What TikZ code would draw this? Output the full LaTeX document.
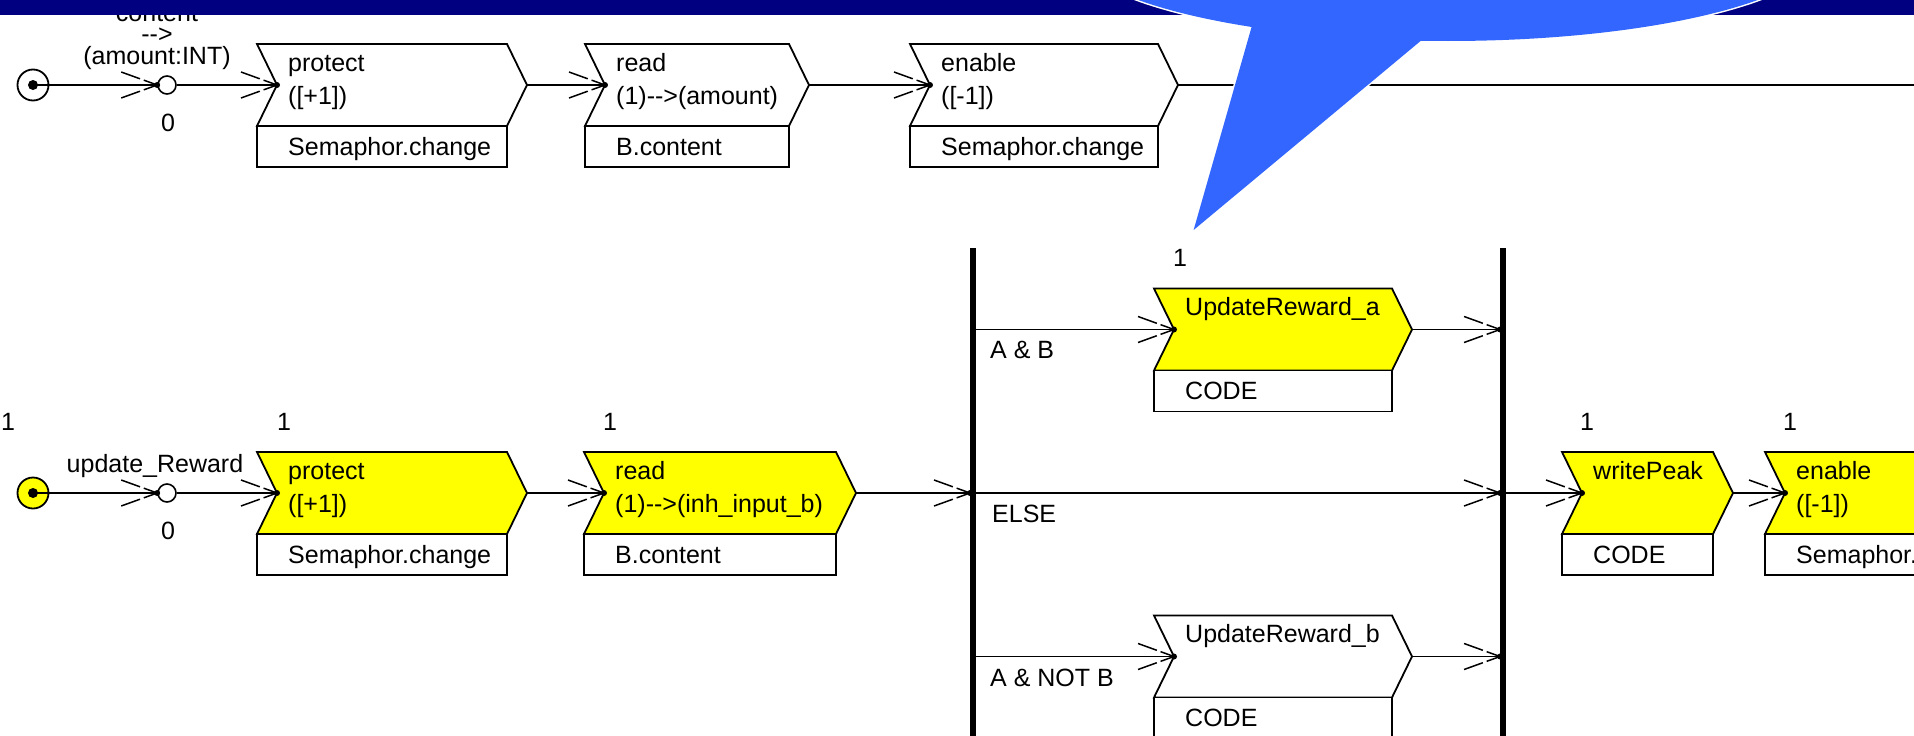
\documentclass[tikz,border=0pt]{standalone}
\usepackage{fontspec}
\setmainfont{Liberation Sans}
\usetikzlibrary{calc}

\definecolor{navyband}{RGB}{0,0,128}
\definecolor{callout}{RGB}{51,102,255}
\definecolor{actfill}{RGB}{255,255,0}

\newcommand\diafont{\fontsize{25}{25}\selectfont}

\tikzset{
  outline/.style={draw=black, line width=1.8pt, line join=miter},
  conn/.style={draw=black, line width=1.8pt},
  barb/.style={draw=black, line width=1.5pt, dash pattern=on 20pt off 4pt on 20pt},
  lbl/.style={anchor=base west, inner sep=0pt, font=\diafont},
  clbl/.style={anchor=base, inner sep=0pt, font=\diafont},
  startc/.style={circle, draw=black, line width=1.8pt, minimum size=31pt, inner sep=0pt},
  junc/.style={circle, draw=black, line width=1.6pt, fill=white, minimum size=18pt, inner sep=0pt},
  syncbar/.style={fill=black, inner sep=0pt, minimum width=5.5pt, minimum height=512pt},
}

% activity box: chevron body with a call box below it
% #1 name, #2 left x, #3 middle y, #4 width, #5 fill, #6 first line, #7 second line, #8 call text
\newcommand\chevbox[8]{%
  \filldraw[outline, fill=#5] (#2,#3-41) -- ++(#4,0) -- ++(20,41) -- ++(-20,41)
     -- ++(-#4,0) -- ++(20,-41) -- cycle;
  \filldraw[outline, fill=white] (#2,#3+41) rectangle ++(#4,41);
  \coordinate (#1-in) at (#2+20,#3);
  \coordinate (#1-out) at (#2+#4+20,#3);
  \node[lbl] (#1-t1) at (#2+31,#3-14) {#6};
  \node[lbl] (#1-t2) at (#2+31,#3+19) {#7};
  \node[lbl] (#1-t3) at (#2+31,#3+70) {#8};
}

% flow connector with an open two-stroke head and a dot at the target
\newcommand\flow[2]{%
  \draw[conn] (#1) -- (#2);
  \draw[barb] (#2) ++(-36,-13) -- (#2);
  \draw[barb] (#2) ++(-36,13) -- (#2);
  \fill (#2) circle[radius=3];
}

\begin{document}
\begin{tikzpicture}[x=1pt,y=-1pt]
\useasboundingbox (0,0) rectangle (1914,736);
\clip (0,0) rectangle (1914,736);
\fill[white] (0,0) rectangle (1914,736);

% ---------- first process: content --> (amount:INT)
\node[startc, fill=white] (s1) at (33,85) {};
\node[junc] (j1) at (167,85) {};
\node[clbl] (lab-content) at (157,21) {content};
\node[clbl] (lab-arrow) at (157,42) {-{}-{}>};
\node[clbl] (lab-amount) at (157,64) {(amount:INT)};
\node[clbl] (j1-zero) at (168,131) {0};

\chevbox{p1}{257}{85}{250}{white}{protect}{([+1])}{Semaphor.change}
\chevbox{r1}{585}{85}{204}{white}{read}{(1)-{}-{}>(amount)}{B.content}
\chevbox{e1}{910}{85}{248}{white}{enable}{([-1])}{Semaphor.change}

\flow{s1.center}{j1.west}
\fill (s1) circle[radius=5];
\flow{j1.east}{p1-in}
\flow{p1-out}{r1-in}
\flow{r1-out}{e1-in}
\coordinate (edge1) at (1914,85);
\draw[conn] (e1-out) -- (edge1);

% ---------- second process: update_Reward
\node[startc, fill=actfill] (s2) at (33,493) {};
\node[junc] (j2) at (167,493) {};
\node[clbl] (lab-upd) at (155,472) {update\_Reward};
\node[clbl] (j2-zero) at (168,539) {0};

\chevbox{p2}{257}{493}{250}{actfill}{protect}{([+1])}{Semaphor.change}
\chevbox{r2}{584}{493}{252}{actfill}{read}{(1)-{}-{}>(inh\_input\_b)}{B.content}
\chevbox{ua}{1154}{329.5}{238}{actfill}{UpdateReward\_a}{}{CODE}
\chevbox{ub}{1154}{656.5}{238}{white}{UpdateReward\_b}{}{CODE}
\chevbox{wp}{1562}{493}{151}{actfill}{writePeak}{}{CODE}
\chevbox{e2}{1765}{493}{250}{actfill}{enable}{([-1])}{Semaphor.change}

% multiplicities
\node[clbl] (m-s2) at (8,430) {1};
\node[clbl] (m-p2) at (284,430) {1};
\node[clbl] (m-r2) at (610,430) {1};
\node[clbl] (m-ua) at (1180,266.5) {1};
\node[clbl] (m-wp) at (1587,430) {1};
\node[clbl] (m-e2) at (1790,430) {1};

% decision bars
\node[syncbar] (barL) at (973,504) {};
\node[syncbar] (barR) at (1503,504) {};

\flow{s2.center}{j2.west}
\fill (s2) circle[radius=5];
\flow{j2.east}{p2-in}
\flow{p2-out}{r2-in}
\coordinate (barL-in) at (barL.west |- r2-out);
\flow{r2-out}{barL-in}

\coordinate (barL-a) at (barL.east |- ua-in);
\coordinate (barL-e) at (barL.east |- r2-out);
\coordinate (barL-b) at (barL.east |- ub-in);
\coordinate (barR-a) at (barR.west |- ua-out);
\coordinate (barR-e) at (barR.west |- r2-out);
\coordinate (barR-b) at (barR.west |- ub-out);
\coordinate (barR-out) at (barR.east |- wp-in);

\flow{barL-a}{ua-in}
\flow{barL-b}{ub-in}
\flow{barL-e}{barR-e}
\flow{ua-out}{barR-a}
\flow{ub-out}{barR-b}
\flow{barR-out}{wp-in}
\flow{wp-out}{e2-in}

\node[lbl] (g-ab) at (990,358) {A \& B};
\node[lbl] (g-else) at (992,522) {ELSE};
\node[lbl] (g-anb) at (990,686) {A \& NOT B};

% ---------- title band
\fill[navyband] (0,0) rectangle (1914,14.5);

% ---------- speech bubble
\draw[white, line width=3pt] (1448,-57.2) ellipse[x radius=381, y radius=98.2];
\draw[white, line width=3pt, line join=miter] (1259.3,0) -- (1193.6,230) -- (1457.8,10) -- cycle;
\fill[callout] (1448,-57.2) ellipse[x radius=381, y radius=98.2];
\fill[callout] (1259.3,0) -- (1193.6,230) -- (1457.8,10) -- cycle;
\end{tikzpicture}
\end{document}
